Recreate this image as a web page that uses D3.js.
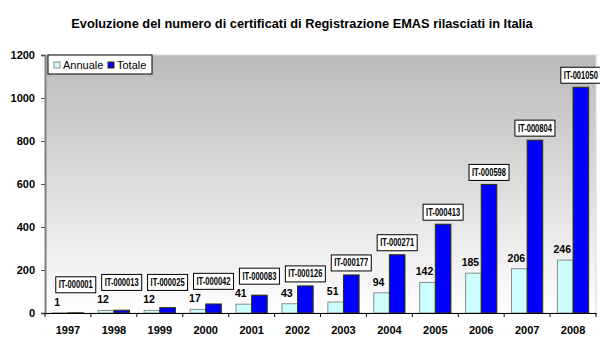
<!DOCTYPE html>
<html>
<head>
<meta charset="utf-8">
<script src="https://cdn.jsdelivr.net/npm/d3@7/dist/d3.min.js"></script>
<style>
  html, body { margin: 0; padding: 0; background: #fff; overflow: hidden; }
</style>
</head>
<body>
<svg id="chart"></svg>
<script>
// dati
const years = ['1997', '1998', '1999', '2000', '2001', '2002', '2003', '2004', '2005', '2006', '2007', '2008']
const annuale = [1, 12, 12, 17, 41, 43, 51, 94, 142, 185, 206, 246]
const totale = [1, 13, 25, 42, 83, 126, 177, 271, 413, 598, 804, 1050]
const codici = ['IT-000001', 'IT-000013', 'IT-000025', 'IT-000042', 'IT-000083', 'IT-000126',
    'IT-000177', 'IT-000271', 'IT-000413', 'IT-000598', 'IT-000804', 'IT-001050']
const yTicks = [0, 200, 400, 600, 800, 1000, 1200]
const seriesNames = ['Annuale', 'Totale']

const FONT = '"Liberation Sans", Arial, sans-serif'
const size = {width: 600, height: 353}
const margin = {top: 55, right: 4, bottom: 40, left: 45}
const innerWidth = size.width - margin.left - margin.right
const innerHeight = size.height - margin.top - margin.bottom

const svg = d3.select('#chart')
    .attr('width', size.width)
    .attr('height', size.height)
    .attr('viewBox', `0 0 ${size.width} ${size.height}`)
    .style('display', 'block')

// titolo
svg.append('text')
    .attr('x', 302)
    .attr('y', 28)
    .attr('text-anchor', 'middle')
    .attr('font-family', FONT)
    .attr('font-size', '12.8px')
    .attr('font-weight', 'bold')
    .text('Evoluzione del numero di certificati di Registrazione EMAS rilasciati in Italia')

const defs = svg.append('defs')
const grad = defs.append('linearGradient')
    .attr('id', 'bg')
    .attr('x1', 0).attr('y1', 0).attr('x2', 0).attr('y2', 1)
grad.append('stop').attr('offset', '0%').attr('stop-color', '#bababa')
grad.append('stop').attr('offset', '100%').attr('stop-color', '#ffffff')

const g = svg.append('g')
    .attr('transform', `translate(${margin.left}, ${margin.top})`)

const x = d3.scaleBand()
    .domain(years)
    .range([0, innerWidth])
    .paddingInner(0.32)
    .paddingOuter(0.16)

const x1 = d3.scaleBand()
    .domain(seriesNames)
    .range([0, x.bandwidth()])

const y = d3.scaleLinear()
    .domain([0, 1200])
    .range([innerHeight, 0])

// sfondo area del grafico
g.append('rect')
    .attr('x', 1)
    .attr('y', 0)
    .attr('width', innerWidth - 1)
    .attr('height', innerHeight)
    .attr('fill', 'url(#bg)')
    .attr('stroke', '#d8d8d8')
    .attr('stroke-width', 1)

// asse Y
const yAxis = d3.axisLeft(y)
    .tickValues(yTicks)
    .tickFormat(d3.format('d'))
    .tickSize(4)
    .tickPadding(6)
const yAxisG = g.append('g').call(yAxis)
yAxisG.attr('font-family', FONT)
yAxisG.select('.domain').attr('stroke', '#808080').attr('stroke-width', 2)
yAxisG.selectAll('.tick line').attr('stroke', '#555')
yAxisG.selectAll('.tick text')
    .attr('font-size', '11px')
    .attr('font-weight', 'bold')
    .attr('fill', '#000')

// barre
const groups = g.selectAll('.group')
    .data(years.map((yr, i) => ({year: yr, a: annuale[i], t: totale[i], code: codici[i]})))
    .join('g')
    .attr('class', 'group')
    .attr('transform', d => `translate(${x(d.year)}, 0)`)

groups.append('rect')
    .attr('x', x1('Annuale'))
    .attr('y', d => y(d.a))
    .attr('width', x1.bandwidth())
    .attr('height', d => innerHeight - y(d.a))
    .attr('fill', '#ccffff')
    .attr('stroke', '#8c8c8c')
    .attr('stroke-width', 1)

groups.append('rect')
    .attr('x', x1('Totale'))
    .attr('y', d => y(d.t))
    .attr('width', x1.bandwidth())
    .attr('height', d => innerHeight - y(d.t))
    .attr('fill', '#0000ff')
    .attr('stroke', '#333300')
    .attr('stroke-width', 1)

// etichette annuali
groups.append('text')
    .attr('x', x1('Annuale') + x1.bandwidth() / 2 - 3)
    .attr('y', d => y(d.a) - 7)
    .attr('text-anchor', 'middle')
    .attr('font-family', FONT)
    .attr('font-size', '10.5px')
    .attr('font-weight', 'bold')
    .text(d => d.a)

// etichette totale (codice)
const boxW = 40, boxH = 16
groups.each(function (d) {
    const gg = d3.select(this)
    const cx = x1('Totale') + x1.bandwidth() / 2
    const bottom = Math.min(y(d.t) - 4, y(d.a) - 20)
    gg.append('rect')
        .attr('x', cx - boxW / 2)
        .attr('y', bottom - boxH)
        .attr('width', boxW)
        .attr('height', boxH)
        .attr('fill', '#fff')
        .attr('stroke', '#000')
        .attr('stroke-width', 1)
    gg.append('text')
        .attr('x', cx)
        .attr('y', bottom - 4.5)
        .attr('text-anchor', 'middle')
        .attr('font-size', '10px')
        .attr('font-weight', 'bold')
        .attr('font-family', '"Liberation Sans Narrow", "Arial Narrow", sans-serif')
        .attr('textLength', 34)
        .attr('lengthAdjust', 'spacingAndGlyphs')
        .text(d.code)
})

// asse X
const xAxis = d3.axisBottom(x)
    .tickSize(0)
    .tickPadding(13)
const xAxisG = g.append('g')
    .attr('transform', `translate(0, ${innerHeight})`)
    .call(xAxis)
xAxisG.attr('font-family', FONT)
xAxisG.select('.domain').attr('stroke', '#000').attr('stroke-width', 1)
xAxisG.selectAll('.tick text')
    .attr('font-size', '11px')
    .attr('font-weight', 'bold')
    .attr('fill', '#000')

// tacche tra le categorie
const step = x.step()
g.append('g')
    .selectAll('line')
    .data(d3.range(years.length + 1))
    .join('line')
    .attr('x1', i => i * step)
    .attr('x2', i => i * step)
    .attr('y1', innerHeight)
    .attr('y2', innerHeight + 4)
    .attr('stroke', '#000')

// legenda
const legend = svg.append('g').attr('transform', 'translate(48, 55)')
legend.append('rect')
    .attr('width', 104)
    .attr('height', 19)
    .attr('fill', '#fff')
    .attr('stroke', '#000')
const legendItems = [
    {name: seriesNames[0], fill: '#ccffff', stroke: '#8c8c8c', x: 6},
    {name: seriesNames[1], fill: '#0000ff', stroke: '#333300', x: 60}
]
legendItems.forEach(item => {
    legend.append('rect')
        .attr('x', item.x)
        .attr('y', 7)
        .attr('width', 6)
        .attr('height', 6)
        .attr('fill', item.fill)
        .attr('stroke', item.stroke)
    legend.append('text')
        .attr('x', item.x + 9)
        .attr('y', 14)
        .attr('font-family', FONT)
        .attr('font-size', '11px')
        .text(item.name)
})
</script>
</body>
</html>
